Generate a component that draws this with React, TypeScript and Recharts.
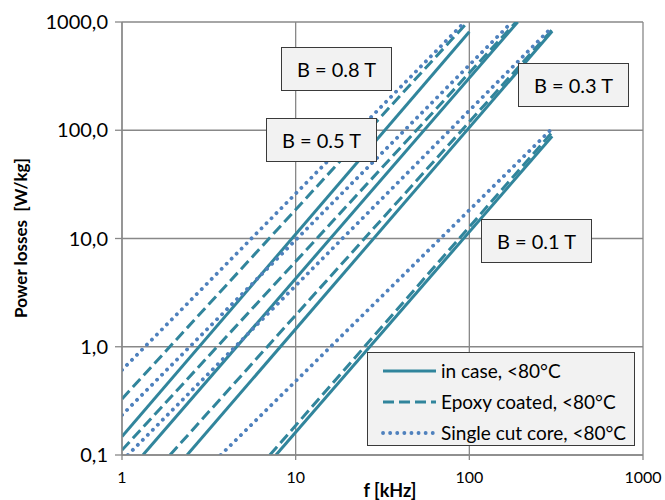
import { LineChart, Line, XAxis, YAxis, CartesianGrid, Legend } from "recharts";

const fTicks = [1, 10, 100, 1000];
const pTicks = [0.1, 1, 10, 100, 1000];

// f [kHz] -> p [W/kg], read where each curve enters and leaves the plot
const b08Case = [{ f: 1, p: 0.148 }, { f: 100, p: 811 }];
const b08Epoxy = [{ f: 1, p: 0.33 }, { f: 98, p: 1000 }];
const b08Cut = [{ f: 1, p: 0.61 }, { f: 94, p: 1000 }];
const b05Case = [{ f: 1.32, p: 0.1 }, { f: 190, p: 1000 }];
const b05Epoxy = [{ f: 1, p: 0.111 }, { f: 186, p: 1000 }];
const b05Cut = [{ f: 1, p: 0.234 }, { f: 176, p: 1000 }];
const b03Case = [{ f: 2.37, p: 0.1 }, { f: 300, p: 820 }];
const b03Epoxy = [{ f: 1.89, p: 0.1 }, { f: 300, p: 850 }];
const b03Cut = [{ f: 1.08, p: 0.1 }, { f: 300, p: 900 }];
const b01Case = [{ f: 7.7, p: 0.1 }, { f: 300, p: 88 }];
const b01Epoxy = [{ f: 7.1, p: 0.1 }, { f: 300, p: 96 }];
const b01Cut = [{ f: 3.7, p: 0.1 }, { f: 300, p: 104 }];

const seriesNames = ["in case, <80°C", "Epoxy coated, <80°C", "Single cut core, <80°C"];
const fluxLabels = ["B = 0.8 T", "B = 0.5 T", "B = 0.3 T", "B = 0.1 T"];

const teal = "#31859c";
const blue = "#4f81bd";
const gridColor = "#888888";
const font = "Lato, 'Open Sans', sans-serif";

const solid = { stroke: teal, strokeWidth: 3 };
const dashed = { stroke: teal, strokeWidth: 3, strokeDasharray: "11 5" };
const dotted = { stroke: blue, strokeWidth: 3.8, strokeDasharray: "0.1 7", strokeLinecap: "round" as const };

const fmt = (v: number) => v.toFixed(1).replace(".", ",");

function LegendBox(props: any) {
  // recharts sorts by name, put them back in series order
  const items = (props.payload || [])
    .filter((e: any) => e.type !== "none")
    .sort((a: any, b: any) => seriesNames.indexOf(a.value) - seriesNames.indexOf(b.value));
  return (
    <div style={{
      width: 268, height: 94, boxSizing: "border-box", border: "1.3px solid #3a3a3a",
      background: "#f2f2f2", padding: "2px 0 0 13px", fontFamily: font,
    }}>
      {items.map((e: any) => (
        <div key={e.value} style={{ display: "flex", alignItems: "center", height: 31 }}>
          <svg width={57} height={10}>
            <line x1={2} x2={55} y1={5} y2={5} stroke={e.color} strokeWidth={e.payload?.strokeWidth ?? 3}
              strokeDasharray={e.payload?.strokeDasharray} strokeLinecap={e.payload?.strokeLinecap} />
          </svg>
          <span style={{ marginLeft: 3, fontSize: 19, color: "#000" }}>{e.value}</span>
        </div>
      ))}
    </div>
  );
}

function FluxBox({ text, left, top }: { text: string; left: number; top: number }) {
  return (
    <div style={{
      position: "absolute", left, top, width: 111, height: 44, boxSizing: "border-box",
      border: "1.3px solid #3a3a3a", background: "#f2f2f2", display: "flex",
      alignItems: "center", justifyContent: "center", fontSize: 20, fontFamily: font,
    }}>
      {text}
    </div>
  );
}

export default function App() {
  return (
    <div style={{ position: "absolute", left: 0, top: 0, width: 665, height: 500, background: "#fff", fontFamily: font }}>
      <LineChart width={665} height={500} margin={{ top: 22, right: 22, left: 0, bottom: 0 }}>
        <CartesianGrid stroke={gridColor} strokeWidth={1.3} />
        <XAxis
          dataKey="f" type="number" scale="log" domain={[1, 1000]} ticks={fTicks} allowDataOverflow
          interval={0} height={45} stroke={gridColor} strokeWidth={1.3} tickSize={5} tickMargin={12}
          tick={{ fill: "#000", fontSize: 16 }}
        />
        <YAxis
          type="number" scale="log" domain={[0.1, 1000]} ticks={pTicks} allowDataOverflow
          interval={0} width={122} stroke={gridColor} strokeWidth={1.3} tickSize={7} tickMargin={7}
          tick={{ fill: "#000", fontSize: 20 }} tickFormatter={fmt}
        />
        <Legend
          content={LegendBox} layout="vertical" align="center" verticalAlign="middle"
          wrapperStyle={{ left: 367, top: 352, width: 268, height: 94 }}
        />
        <Line data={b08Case} dataKey="p" name={seriesNames[0]} {...solid} dot={false} activeDot={false} isAnimationActive={false} />
        <Line data={b08Epoxy} dataKey="p" name={seriesNames[1]} {...dashed} dot={false} activeDot={false} isAnimationActive={false} />
        <Line data={b08Cut} dataKey="p" name={seriesNames[2]} {...dotted} dot={false} activeDot={false} isAnimationActive={false} />
        <Line data={b05Case} dataKey="p" legendType="none" {...solid} dot={false} activeDot={false} isAnimationActive={false} />
        <Line data={b05Epoxy} dataKey="p" legendType="none" {...dashed} dot={false} activeDot={false} isAnimationActive={false} />
        <Line data={b05Cut} dataKey="p" legendType="none" {...dotted} dot={false} activeDot={false} isAnimationActive={false} />
        <Line data={b03Case} dataKey="p" legendType="none" {...solid} dot={false} activeDot={false} isAnimationActive={false} />
        <Line data={b03Epoxy} dataKey="p" legendType="none" {...dashed} dot={false} activeDot={false} isAnimationActive={false} />
        <Line data={b03Cut} dataKey="p" legendType="none" {...dotted} dot={false} activeDot={false} isAnimationActive={false} />
        <Line data={b01Case} dataKey="p" legendType="none" {...solid} dot={false} activeDot={false} isAnimationActive={false} />
        <Line data={b01Epoxy} dataKey="p" legendType="none" {...dashed} dot={false} activeDot={false} isAnimationActive={false} />
        <Line data={b01Cut} dataKey="p" legendType="none" {...dotted} dot={false} activeDot={false} isAnimationActive={false} />
      </LineChart>

      <FluxBox text={fluxLabels[0]} left={281} top={47} />
      <FluxBox text={fluxLabels[1]} left={266} top={118} />
      <FluxBox text={fluxLabels[2]} left={518} top={63} />
      <FluxBox text={fluxLabels[3]} left={481} top={219} />

      <svg width={665} height={500} style={{ position: "absolute", left: 0, top: 0, pointerEvents: "none" }}>
        <text x={20} y={238} transform="rotate(-90 20 238)" textAnchor="middle" dominantBaseline="central"
          fontSize={17} fontWeight="bold" style={{ whiteSpace: "pre" }}>
          Power losses  [W/kg]
        </text>
        <text x={390} y={497} textAnchor="middle" fontSize={18} fontWeight="bold">f [kHz]</text>
      </svg>
    </div>
  );
}
